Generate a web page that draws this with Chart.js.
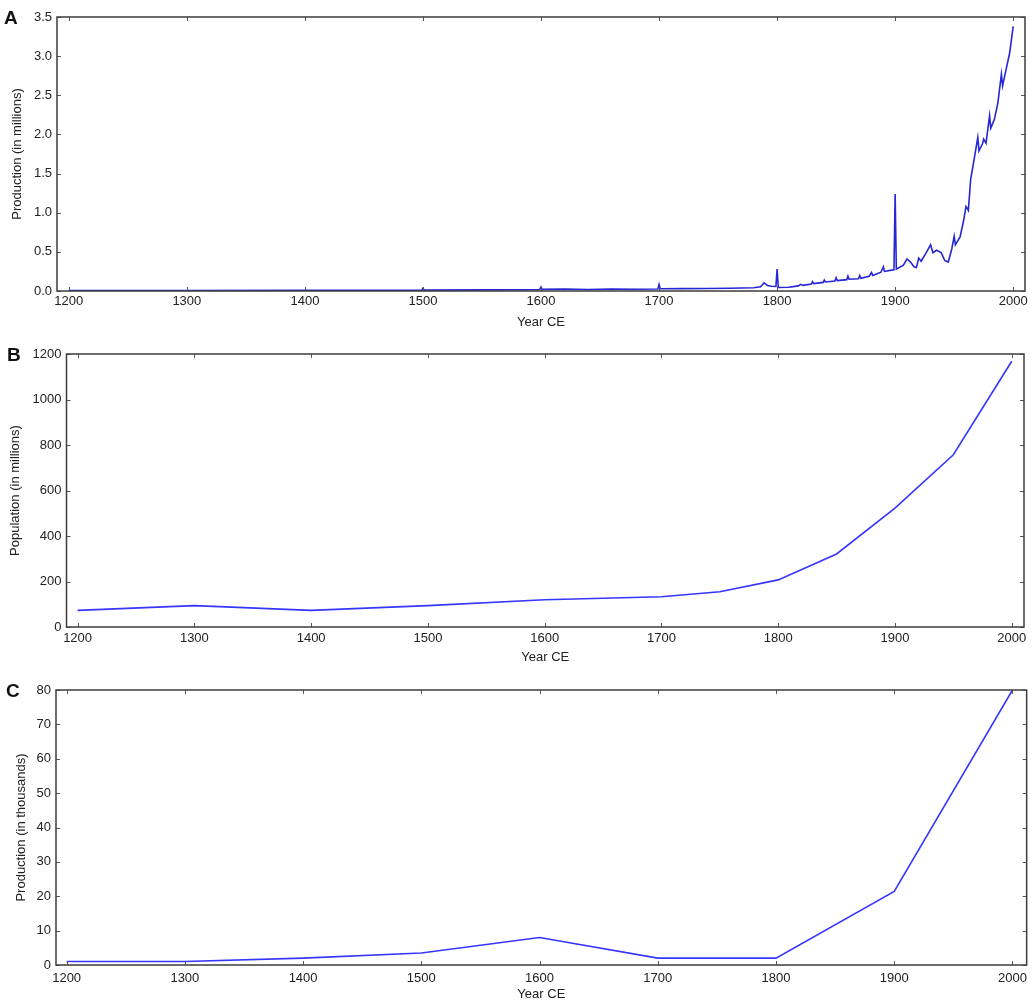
<!DOCTYPE html>
<html><head><meta charset="utf-8">
<script src="https://cdn.jsdelivr.net/npm/chart.js@4.4.1/dist/chart.umd.min.js"></script>
<style>
html,body{margin:0;padding:0;background:#fff;width:1033px;height:1002px;overflow:hidden;}
.panel{position:absolute;left:0;width:1033px;}
.lbl{position:absolute;font-family:"Liberation Sans",Arial,sans-serif;font-weight:bold;font-size:19px;color:#111;line-height:1;}
</style></head><body>
<div class="panel" style="top:0;height:333px"><canvas id="cA" width="1033" height="333"></canvas></div>
<div class="panel" style="top:333px;height:335px"><canvas id="cB" width="1033" height="335"></canvas></div>
<div class="panel" style="top:668px;height:334px"><canvas id="cC" width="1033" height="334"></canvas></div>
<div class="lbl" style="left:4px;top:8px">A</div>
<div class="lbl" style="left:7px;top:345px">B</div>
<div class="lbl" style="left:6px;top:681px">C</div>
<script>
// ---- Data ----
const yearTicks = [1200,1300,1400,1500,1600,1700,1800,1900,2000];
const ticksA = [0,0.5,1,1.5,2,2.5,3,3.5];
const ticksB = [0,200,400,600,800,1000,1200];
const ticksC = [0,10,20,30,40,50,60,70,80];

const yearsA = [1200,1300,1400,1450,1499,1500,1501,1550,1599,1600,1601,1620,1640,1660,1680,1699,1700,1701,1720,1740,1760,1780,1786,1789,1792,1795,1799,1800,1801,1810,1818,1820,1822,1829,1830,1831,1839,1840,1841,1849,1850,1851,1859,1860,1861,1869,1870,1871,1878,1880,1881,1888,1890,1891,1897,1899,1900,1901,1907,1910,1913,1916,1918,1920,1922,1926,1930,1932,1935,1939,1942,1945,1948,1950,1951,1955,1958,1960,1962,1964,1967,1970,1971,1974,1975,1977,1980,1981,1984,1987,1990,1991,1994,1997,2000];
const prodA = [0.005,0.006,0.008,0.009,0.010,0.035,0.011,0.015,0.020,0.050,0.022,0.026,0.020,0.025,0.023,0.026,0.085,0.028,0.030,0.032,0.036,0.042,0.055,0.105,0.070,0.060,0.058,0.280,0.045,0.048,0.065,0.085,0.072,0.088,0.120,0.095,0.110,0.140,0.115,0.128,0.170,0.132,0.145,0.190,0.150,0.156,0.198,0.162,0.188,0.235,0.198,0.240,0.310,0.250,0.267,0.272,1.240,0.280,0.330,0.410,0.370,0.310,0.300,0.420,0.380,0.480,0.590,0.490,0.520,0.490,0.390,0.370,0.540,0.700,0.590,0.690,0.900,1.080,1.030,1.430,1.690,1.960,1.790,1.880,1.940,1.890,2.240,2.080,2.190,2.400,2.770,2.620,2.830,3.040,3.380];

const yearsB = [1200,1300,1400,1500,1600,1700,1750,1800,1850,1900,1950,2000];
const popB = [73,94,73,94,120,133,155,207,321,523,757,1168];

const yearsC = [1200,1300,1400,1500,1600,1700,1800,1900,2000];
const prodC = [1.0,1.0,2.0,3.5,8.0,2.0,2.0,21.4,80];

// ---- Helpers ----
const FONT = '"Liberation Sans", Arial, Helvetica, sans-serif';
const framePlugin = {
  id: 'frame',
  afterDatasetsDraw(chart) {
    const {ctx, chartArea: a, scales: {x, y}} = chart;
    ctx.save();
    ctx.strokeStyle = '#555';
    ctx.lineWidth = 1;
    ctx.beginPath();
    x.ticks.forEach(t => {
      const px = Math.round(x.getPixelForValue(t.value)) + 0.5;
      ctx.moveTo(px, a.bottom); ctx.lineTo(px, a.bottom - 4);
      ctx.moveTo(px, a.top); ctx.lineTo(px, a.top + 4);
    });
    y.ticks.forEach(t => {
      const py = Math.round(y.getPixelForValue(t.value)) + 0.5;
      ctx.moveTo(a.left, py); ctx.lineTo(a.left + 4, py);
      ctx.moveTo(a.right, py); ctx.lineTo(a.right - 4, py);
    });
    ctx.stroke();
    ctx.strokeStyle = '#3c3c3c';
    ctx.lineWidth = 1.5;
    ctx.strokeRect(a.left, a.top, a.right - a.left, a.bottom - a.top);
    ctx.restore();
  }
};

function makeChart(id, xs, ys, o) {
  const pts = xs.map((v, i) => ({x: v, y: ys[i]}));
  return new Chart(document.getElementById(id), {
    type: 'line',
    data: {datasets: [{data: pts, borderColor: o.color, borderWidth: o.lw, pointRadius: 0, tension: 0, fill: false}]},
    options: {
      responsive: false, animation: false,
      layout: {padding: {left: o.left, top: o.top, right: o.right, bottom: 0}},
      plugins: {legend: {display: false}, tooltip: {enabled: false}},
      scales: {
        x: {
          type: 'linear', min: o.xmin, max: o.xmax,
          grid: {display: false, drawTicks: false},
          border: {display: false},
          afterBuildTicks: s => { s.ticks = yearTicks.map(v => ({value: v})); },
          afterFit: s => { s.height = o.xh; },
          ticks: {autoSkip: false, maxRotation: 0, padding: o.xpad, color: '#222', font: {family: FONT, size: 13}, callback: v => String(v)},
          title: {display: true, text: 'Year CE', color: '#222', font: {family: FONT, size: 13}, padding: {top: 2, bottom: o.tpad}}
        },
        y: {
          type: 'linear', min: o.ymin, max: o.ymax,
          grid: {display: false, drawTicks: false},
          border: {display: false},
          afterBuildTicks: s => { s.ticks = o.yt.map(v => ({value: v})); },
          afterFit: s => { s.width = o.yw; },
          ticks: {autoSkip: false, padding: 5, color: '#222', font: {family: FONT, size: 13}, callback: o.fmt},
          title: {display: true, text: o.ytitle, color: '#222', font: {family: FONT, size: 13}, padding: {top: 4, bottom: 4}}
        }
      }
    },
    plugins: [framePlugin]
  });
}

makeChart('cA', yearsA, prodA, {color: '#2626d6', lw: 1.6, left: 6, top: 17, right: 8, xh: 42, yw: 51, xpad: 3, tpad: 3,
  xmin: 1190, xmax: 2010, ymin: 0, ymax: 3.5, yt: ticksA, fmt: v => v.toFixed(1), ytitle: 'Production (in millions)'});
makeChart('cB', yearsB, popB, {color: '#3636ff', lw: 1.6, left: 4, top: 21, right: 9, xh: 41, yw: 62.5, xpad: 4, tpad: 3,
  xmin: 1190.5, xmax: 2010.5, ymin: 0, ymax: 1200, yt: ticksB, fmt: v => String(v), ytitle: 'Population (in millions)'});
makeChart('cC', yearsC, prodC, {color: '#3636ff', lw: 1.6, left: 10, top: 22, right: 5, xh: 37, yw: 46, xpad: 6, tpad: 0,
  xmin: 1191, xmax: 2012, ymin: 0, ymax: 80, yt: ticksC, fmt: v => String(v), ytitle: 'Production (in thousands)'});
</script>
</body></html>
